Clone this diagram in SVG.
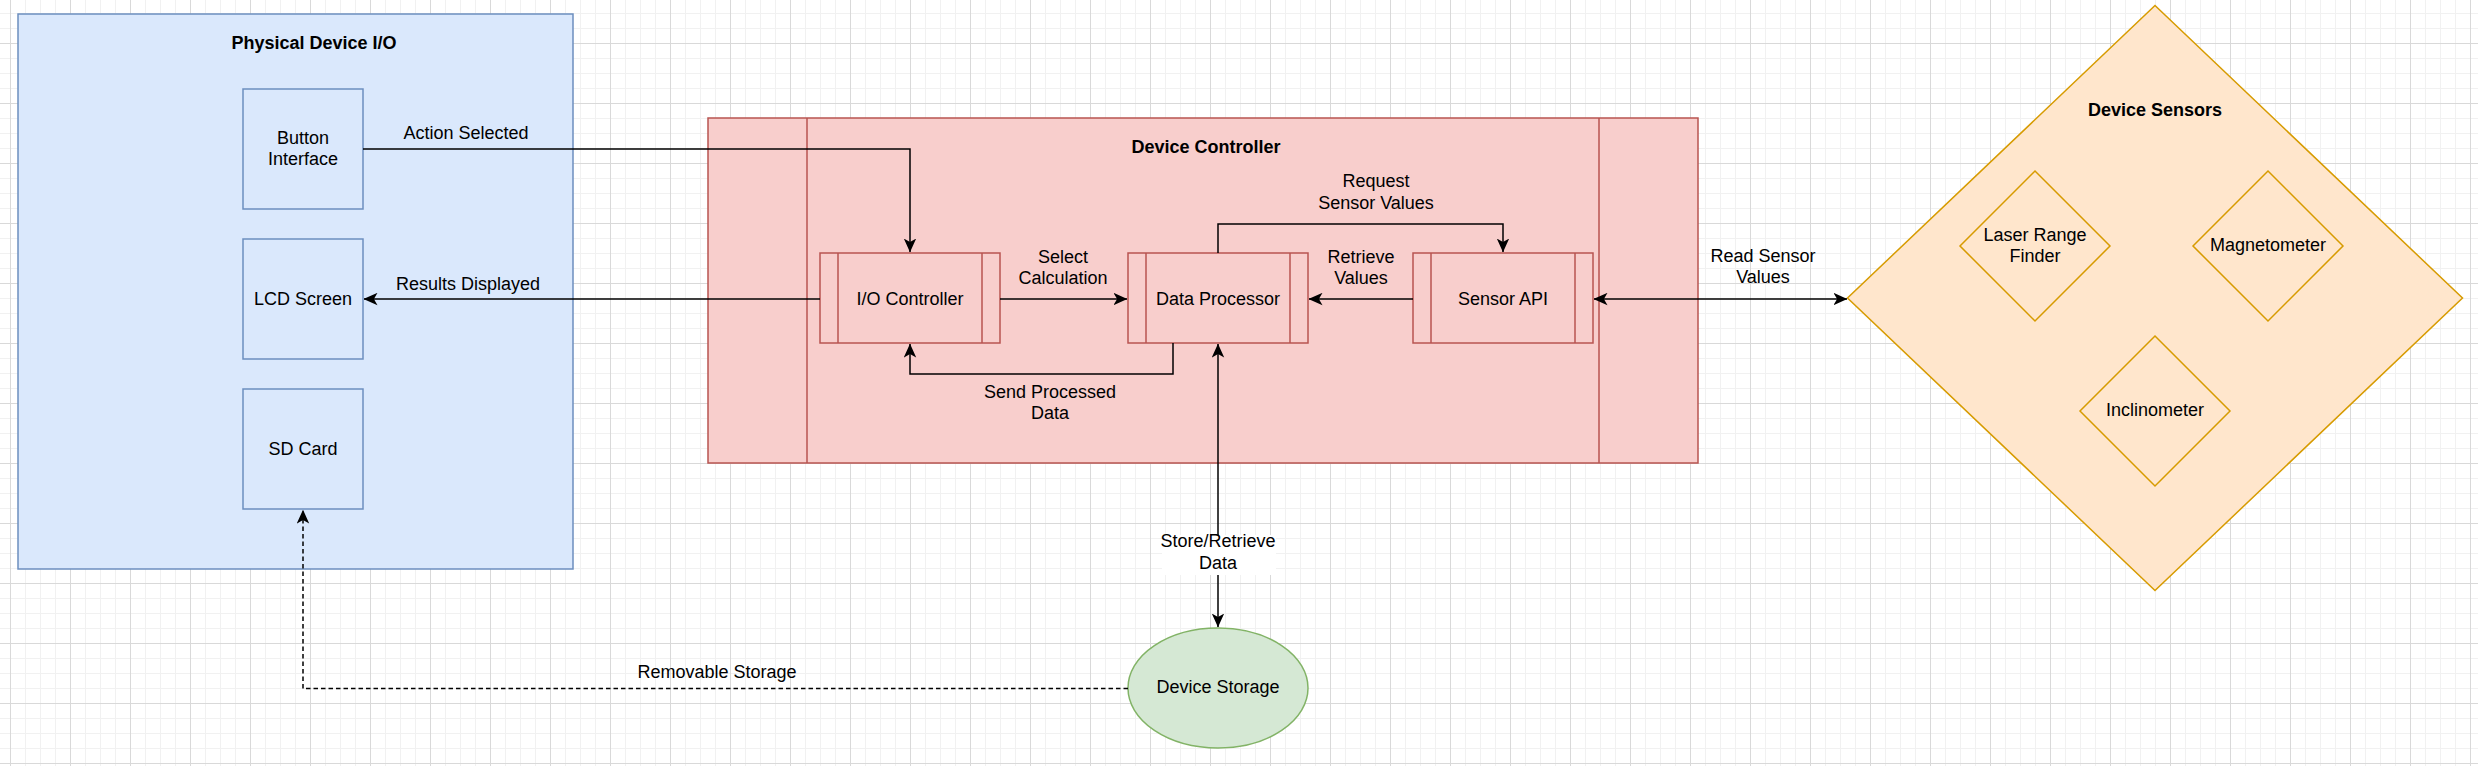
<svg xmlns="http://www.w3.org/2000/svg" width="2478" height="766" viewBox="0 0 2478 766">
<style>
text{font-family:"Liberation Sans",Arial,sans-serif;font-size:18px;fill:#000;text-anchor:middle}
.b{font-weight:bold}
.blue{fill:#dae8fc;stroke:#6c8ebf;stroke-width:1.5}
.red{fill:#f8cecc;stroke:#b85450;stroke-width:1.5}
.org{fill:#ffe6cc;stroke:#d79b00;stroke-width:1.5}
.grn{fill:#d5e8d4;stroke:#82b366;stroke-width:1.5}
.rl{stroke:#b85450;stroke-width:1.5;fill:none}
.e{fill:none;stroke:#000;stroke-width:1.5}
.ea{marker-end:url(#arr)}
.es{marker-start:url(#arr)}
.dash{stroke-dasharray:4.5 3}
</style>
<defs>
<pattern id="grid" x="10" y="43" width="60" height="60" patternUnits="userSpaceOnUse">
<path d="M15.5,0V60M30.5,0V60M45.5,0V60M0,15.5H60M0,30.5H60M0,45.5H60" stroke="#f1f1f1" stroke-width="1" fill="none"/>
<path d="M0.5,0V60M0,0.5H60" stroke="#d9d9d9" stroke-width="1" fill="none"/>
</pattern>
<marker id="arr" viewBox="0 0 14 13" refX="13.5" refY="6.5" markerWidth="14" markerHeight="13" orient="auto-start-reverse" markerUnits="userSpaceOnUse">
<path d="M0,0.3 L13.8,6.5 L0,12.7 L3.6,6.5 Z" fill="#000"/>
</marker>
</defs>
<rect x="0" y="0" width="2478" height="766" fill="#fff"/>
<rect x="0" y="0" width="2478" height="766" fill="url(#grid)"/>

<g id="physical-device-io">
<rect class="blue" x="18" y="14" width="555" height="555"/>
<text class="b" x="314" y="49">Physical Device I/O</text>
</g>
<g id="button-interface">
<rect class="blue" x="243" y="89" width="120" height="120"/>
<text x="303" y="143.5">Button</text>
<text x="303" y="165">Interface</text>
</g>
<g id="lcd-screen">
<rect class="blue" x="243" y="239" width="120" height="120"/>
<text x="303" y="305">LCD Screen</text>
</g>
<g id="sd-card">
<rect class="blue" x="243" y="389" width="120" height="120"/>
<text x="303" y="455">SD Card</text>
</g>

<g id="device-controller">
<rect class="red" x="708" y="118" width="990" height="345"/>
<path class="rl" d="M807,118V463M1599,118V463"/>
<text class="b" x="1206" y="153">Device Controller</text>
</g>
<g id="io-controller">
<rect class="red" x="820" y="253" width="180" height="90"/>
<path class="rl" d="M838,253V343M982,253V343"/>
<text x="910" y="305">I/O Controller</text>
</g>
<g id="data-processor">
<rect class="red" x="1128" y="253" width="180" height="90"/>
<path class="rl" d="M1146,253V343M1290,253V343"/>
<text x="1218" y="305">Data Processor</text>
</g>
<g id="sensor-api">
<rect class="red" x="1413" y="253" width="180" height="90"/>
<path class="rl" d="M1431,253V343M1575,253V343"/>
<text x="1503" y="305">Sensor API</text>
</g>

<g id="device-sensors">
<polygon class="org" points="2155,5.5 2462.5,298 2155,590.5 1847.5,298"/>
<text class="b" x="2155" y="116">Device Sensors</text>
</g>
<g id="laser-range-finder">
<polygon class="org" points="2035,171 2110,246 2035,321 1960,246"/>
<text x="2035" y="241">Laser Range</text>
<text x="2035" y="262">Finder</text>
</g>
<g id="magnetometer">
<polygon class="org" points="2268,171 2343,246 2268,321 2193,246"/>
<text x="2268" y="251">Magnetometer</text>
</g>
<g id="inclinometer">
<polygon class="org" points="2155,336 2230,411 2155,486 2080,411"/>
<text x="2155" y="416">Inclinometer</text>
</g>

<g id="device-storage">
<ellipse class="grn" cx="1218" cy="688" rx="90" ry="60"/>
<text x="1218" y="693">Device Storage</text>
</g>

<g id="connectors">
<path class="e ea" d="M363,149H910V252"/>
<text x="466" y="139">Action Selected</text>
<path class="e ea" d="M820,299H364"/>
<text x="468" y="290">Results Displayed</text>
<path class="e ea" d="M1000,299H1127"/>
<text x="1063" y="263">Select</text>
<text x="1063" y="284">Calculation</text>
<path class="e ea" d="M1413,299H1309"/>
<text x="1361" y="263">Retrieve</text>
<text x="1361" y="284">Values</text>
<path class="e ea" d="M1218,253V224H1503V252"/>
<text x="1376" y="187">Request</text>
<text x="1376" y="209">Sensor Values</text>
<path class="e ea" d="M1173,343V374H910V344"/>
<text x="1050" y="397.5">Send Processed</text>
<text x="1050" y="419">Data</text>
<path class="e ea es" d="M1218,344V627"/>
<rect x="1162" y="535" width="114" height="40" fill="#fff"/>
<text x="1218" y="547">Store/Retrieve</text>
<text x="1218" y="569">Data</text>
<path class="e ea es" d="M1594,299H1847"/>
<text x="1763" y="262">Read Sensor</text>
<text x="1763" y="283">Values</text>
<path class="e ea dash" d="M1128,688.5H303V510"/>
<text x="717" y="678">Removable Storage</text>
</g>
</svg>
